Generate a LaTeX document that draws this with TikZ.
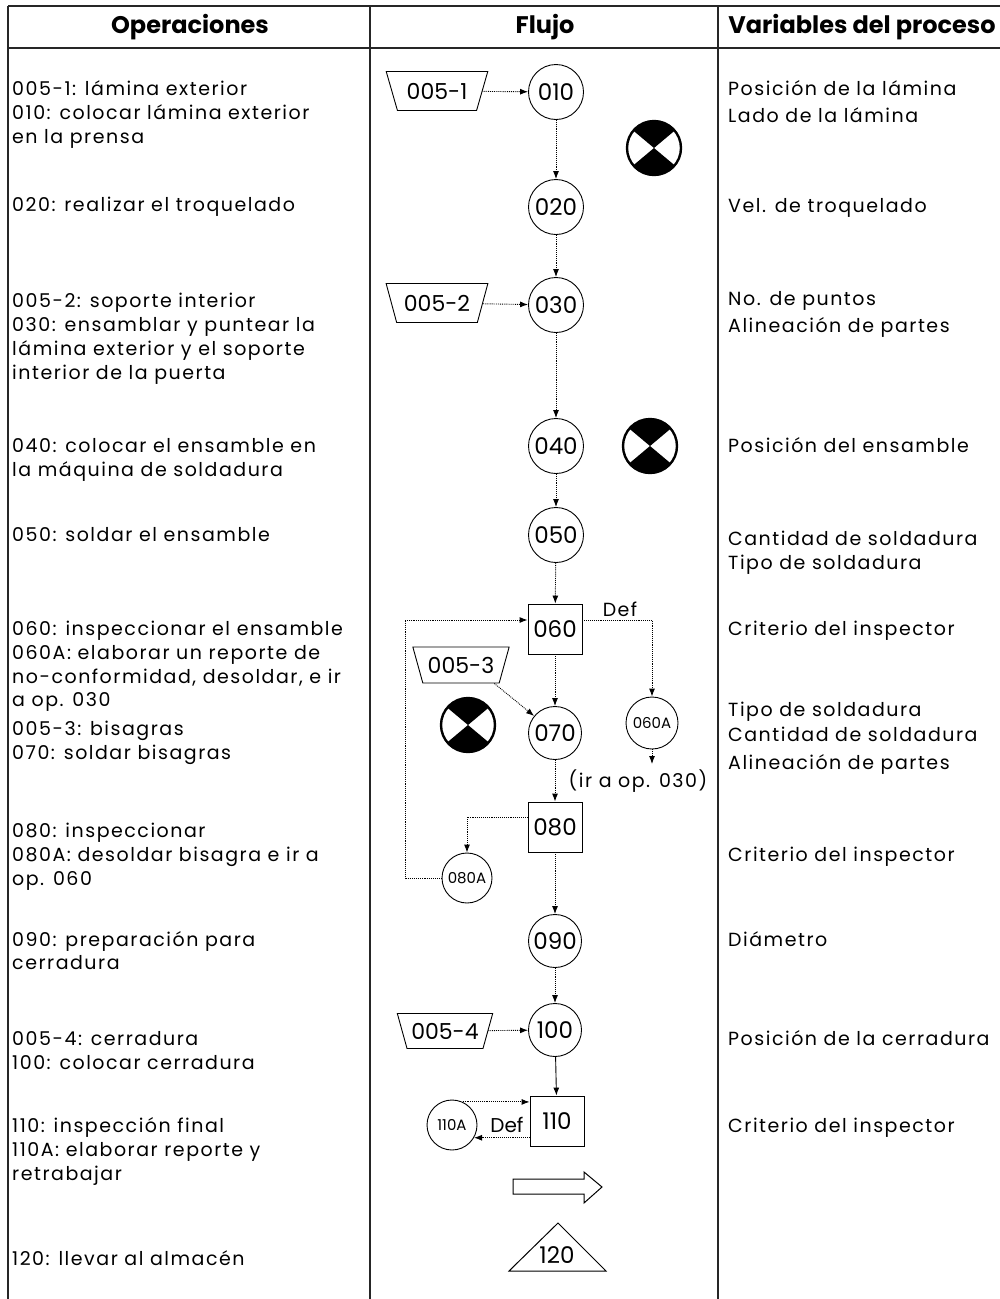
\documentclass[tikz,border=0pt]{standalone}
\usepackage{fontspec}
\setmainfont{Poppins}
\newfontfamily\bodyfont{Poppins}[LetterSpace=8]
\usetikzlibrary{shapes.geometric,arrows.meta}
\tikzset{
 tbl/.style={line width=1.1pt, black!85},
 optext/.style={font=\bodyfont\fontsize{19}{20}\selectfont, anchor=west, inner sep=0pt, text height=14pt, text depth=4pt},
 hdr/.style={font=\fontsize{24}{26}\selectfont\bfseries, inner sep=0pt},
 opc/.style={circle, draw, line width=0.9pt, minimum size=55pt, inner sep=0pt, font=\fontsize{23}{24}\selectfont},
 opcs/.style={opc, minimum size=52pt, font=\fontsize{15}{16}\selectfont},
 insp/.style={rectangle, draw, line width=0.9pt, minimum width=54pt, minimum height=50pt, inner sep=0pt, font=\fontsize{23}{24}\selectfont},
 stor/.style={trapezium, trapezium stretches=true, trapezium angle=64, shape border rotate=180, draw, line width=0.9pt, minimum width=102pt, minimum height=39pt, inner sep=1pt, font=\fontsize{22}{24}\selectfont},
 flow/.style={densely dotted, line width=0.9pt, -{Latex[length=8pt,width=6pt]}},
 sflow/.style={line width=0.9pt, -{Latex[length=8pt,width=6pt]}},
 lbl/.style={inner sep=0pt, font=\bodyfont\fontsize{19}{20}\selectfont},
 ctrl/.pic={
   \fill (0,0) -- (40:27pt) arc (40:140:27pt) -- cycle;
   \fill (0,0) -- (220:27pt) arc (220:320:27pt) -- cycle;
   \draw[line width=2.4pt] (0,0) circle (27pt);
 }
}
\begin{document}
\begin{tikzpicture}[x=1pt,y=-1pt]
\useasboundingbox (0,0) rectangle (1000,1299);
% table
\draw[tbl] (8,6) -- (1000,6);
\draw[tbl] (8,48) -- (1000,48);
\draw[tbl] (8,6) -- (8,1299);
\draw[tbl] (370,6) -- (370,1299);
\draw[tbl] (718,6) -- (718,1299);
\node[hdr] (h1) at (190,27) {Operaciones};
\node[hdr] (h2) at (545,27) {Flujo};
\node[hdr] (h3) at (862,27) {Variables del proceso};
% left column
\foreach \yy/\tt in {90/{005-1: lámina exterior},114/{010: colocar lámina exterior},138/{en la prensa},
 206/{020: realizar el troquelado},302/{005-2: soporte interior},326/{030: ensamblar y puntear la},
 350/{lámina exterior y el soporte},374/{interior de la puerta},447/{040: colocar el ensamble en},
 471/{la máquina de soldadura},536/{050: soldar el ensamble},630/{060: inspeccionar el ensamble},
 654/{060A: elaborar un reporte de},678/{no-conformidad, desoldar, e ir},701/{a op. 030},
 730/{005-3: bisagras},754/{070: soldar bisagras},832/{080: inspeccionar},856/{080A: desoldar bisagra e ir a},
 880/{op. 060},941/{090: preparación para},964/{cerradura},1040/{005-4: cerradura},
 1064/{100: colocar cerradura},1127/{110: inspección final},1151/{110A: elaborar reporte y},
 1175/{retrabajar},1260/{120: llevar al almacén}}
 \node[optext] (L\yy) at (12,\yy) {\tt};
% right column
\foreach \yy/\tt in {90/{Posición de la lámina},117/{Lado de la lámina},207/{Vel. de troquelado},
 300/{No. de puntos},327/{Alineación de partes},447/{Posición del ensamble},540/{Cantidad de soldadura},
 564/{Tipo de soldadura},630/{Criterio del inspector},711/{Tipo de soldadura},736/{Cantidad de soldadura},
 764/{Alineación de partes},856/{Criterio del inspector},941/{Diámetro},1040/{Posición de la cerradura},
 1127/{Criterio del inspector}}
 \node[optext] (R\yy) at (728,\yy) {\tt};
% flow nodes
\node[stor] (s1) at (437,91) {005-1};
\node[opc] (o010) at (556,92) {010};
\node[opc] (o020) at (556,207) {020};
\node[stor] (s2) at (437,303) {005-2};
\node[opc] (o030) at (556,305) {030};
\node[opc] (o040) at (556,446) {040};
\node[opc] (o050) at (556,535) {050};
\node[insp] (i060) at (555,629) {060};
\node[stor, minimum width=97pt, minimum height=36pt] (s3) at (461,665) {005-3};
\node[opc, minimum size=53pt] (o070) at (555,733) {070};
\node[opcs] (o060A) at (652,723) {060A};
\coordinate (ir) at (652,764);
\node[lbl] (irtxt) at (638,781) {(ir a op. 030)};
\node[lbl] (def1) at (620,609) {Def};
\node[insp] (i080) at (555,827) {080};
\node[opcs, minimum size=50pt] (o080A) at (467,878) {080A};
\coordinate (loop) at (405,620);
\node[opc, minimum size=53pt] (o090) at (555,941) {090};
\node[opc, minimum size=53pt] (o100) at (555,1030) {100};
\node[stor, minimum width=96pt, minimum height=35pt] (s4) at (445,1031) {005-4};
\node[insp] (i110) at (557,1121) {110};
\node[opcs, minimum size=50pt] (o110A) at (452,1125) {110A};
\node[lbl, font=\fontsize{20}{20}\selectfont] (def2) at (507,1125) {Def};
% control symbols
\pic at (654,148) {ctrl};
\pic at (650,446) {ctrl};
\pic at (468,725) {ctrl};
% connectors
\draw[flow] (s1) -- (o010);
\draw[flow] (o010) -- (o020);
\draw[flow] (o020) -- (o030);
\draw[flow] (s2) -- (o030);
\draw[flow] (o030) -- (o040);
\draw[flow] (o040) -- (o050);
\draw[flow] (o050) -- (i060);
\draw[flow] (i060) -- (o070);
\draw[flow] (s3.-29) -- (o070);
\draw[flow] ([yshift=9pt]i060.east) -| (o060A.north);
\draw[flow] (o060A) -- (ir);
\draw[flow] (o070) -- (i080);
\draw[flow] ([yshift=10pt]i080.west) -| (o080A.north);
\draw[flow] (o080A.west) -| (loop) -- (loop -| i060.west);
\draw[flow] (i080) -- (o090);
\draw[flow] (o090) -- (o100);
\draw[flow] (s4) -- (o100);
\draw[sflow] (o100) -- (i110);
\draw[flow] (o110A.65) -- (o110A.65 -| i110.west);
\draw[flow] (i110.west |- o110A.-30) -- (o110A.-30);
% transport arrow
\draw[line width=1pt] (513,1179) -- (584,1179) -- (584,1172) -- (602,1187) -- (584,1203) -- (584,1194) -- (513,1194) -- cycle;
% storage triangle
\draw[line width=1pt] (558,1223) -- (606,1271) -- (509,1271) -- cycle;
\node[inner sep=0pt, font=\fontsize{23}{24}\selectfont] (t120) at (557,1255) {120};
\end{tikzpicture}
\end{document}
